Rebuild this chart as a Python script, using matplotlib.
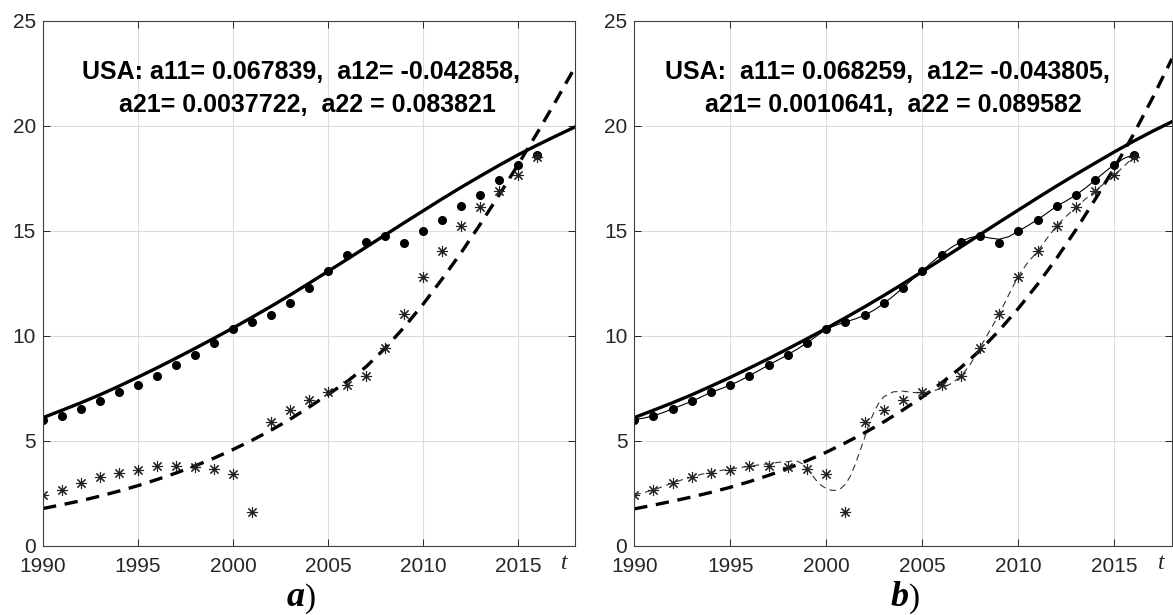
import numpy as np
import matplotlib
matplotlib.use("Agg")
import matplotlib.pyplot as plt

# observed data, 1990-2016
years = list(range(1990, 2017))
dots = [6.00, 6.18, 6.52, 6.88, 7.31, 7.65, 8.10, 8.61, 9.10, 9.66, 10.32, 10.66,
        10.98, 11.54, 12.29, 13.10, 13.87, 14.49, 14.76, 14.44, 14.98, 15.53,
        16.18, 16.71, 17.42, 18.16, 18.63]
stars = [2.41, 2.65, 2.99, 3.27, 3.45, 3.62, 3.78, 3.80, 3.74, 3.64, 3.43, 1.60,
         5.90, 6.48, 6.93, 7.34, 7.66, 8.07, 9.42, 11.03, 12.81, 14.03, 15.24,
         16.13, 16.90, 17.67, 18.51]

# model curves, 1990-2018
fit_years = list(range(1990, 2019))
fit_x_a = [6.10, 6.45, 6.81, 7.19, 7.60, 8.03, 8.47, 8.93, 9.40, 9.88, 10.37,
           10.88, 11.40, 11.94, 12.50, 13.07, 13.64, 14.22, 14.80, 15.38, 15.95,
           16.52, 17.07, 17.60, 18.12, 18.62, 19.08, 19.52, 19.95]
fit_y_a = [1.77, 1.95, 2.14, 2.36, 2.60, 2.86, 3.15, 3.46, 3.80, 4.17, 4.58,
           5.02, 5.50, 6.02, 6.60, 7.20, 7.82, 8.52, 9.40, 10.40, 11.50, 12.70,
           13.95, 15.30, 16.70, 18.15, 19.65, 21.20, 22.80]
fit_x_b = [6.10, 6.45, 6.81, 7.19, 7.60, 8.02, 8.46, 8.91, 9.38, 9.86, 10.35,
           10.86, 11.38, 11.92, 12.48, 13.06, 13.64, 14.23, 14.82, 15.41, 15.99,
           16.57, 17.14, 17.69, 18.23, 18.76, 19.27, 19.75, 20.20]
fit_y_b = [1.75, 1.93, 2.12, 2.32, 2.54, 2.78, 3.05, 3.35, 3.68, 4.05, 4.45,
           4.90, 5.38, 5.90, 6.47, 7.08, 7.75, 8.48, 9.30, 10.25, 11.30, 12.45,
           13.70, 15.05, 16.50, 18.00, 19.60, 21.35, 23.20]

# smoothing curves of panel b
spl_t_x = [1990, 1990.5, 1991, 1991.5, 1992, 1992.5, 1993, 1993.5, 1994, 1994.5,
           1995, 1995.5, 1996, 1996.5, 1997, 1997.5, 1998, 1998.5, 1999, 1999.5,
           2000, 2000.5, 2001, 2001.5, 2002, 2002.5, 2003, 2003.5, 2004, 2004.5,
           2005, 2005.5, 2006, 2006.5, 2007, 2007.5, 2008, 2008.5, 2009, 2009.5,
           2010, 2010.5, 2011, 2011.5, 2012, 2012.5, 2013, 2013.5, 2014, 2014.5,
           2015, 2015.5, 2016]
spl_x = [6.00, 6.08, 6.18, 6.34, 6.52, 6.70, 6.88, 7.09, 7.31, 7.47, 7.65, 7.86,
         8.10, 8.35, 8.61, 8.85, 9.10, 9.37, 9.66, 9.99, 10.32, 10.50, 10.66,
         10.80, 10.98, 11.23, 11.54, 11.90, 12.29, 12.70, 13.10, 13.50, 13.88,
         14.20, 14.48, 14.68, 14.75, 14.66, 14.60, 14.72, 14.98, 15.25, 15.53,
         15.85, 16.18, 16.43, 16.71, 17.04, 17.42, 17.80, 18.16, 18.45, 18.63]
spl_t_y = [1990, 1990.5, 1991, 1991.5, 1992, 1992.5, 1993, 1993.5, 1994, 1994.5,
           1995, 1995.5, 1996, 1996.5, 1997, 1997.5, 1998, 1998.25, 1998.5,
           1998.75, 1999, 1999.25, 1999.5, 1999.75, 2000, 2000.25, 2000.5,
           2000.75, 2001, 2001.25, 2001.5, 2001.75, 2002, 2002.25, 2002.5,
           2002.75, 2003, 2003.5, 2004, 2004.5, 2005, 2005.5, 2006, 2006.5, 2007,
           2007.5, 2008, 2008.5, 2009, 2009.5, 2010, 2010.5, 2011, 2011.5, 2012,
           2012.5, 2013, 2013.5, 2014, 2014.5, 2015, 2015.5, 2016]
spl_y = [2.41, 2.53, 2.65, 2.82, 2.99, 3.14, 3.27, 3.40, 3.50, 3.58, 3.65, 3.72,
         3.78, 3.85, 3.90, 3.97, 4.00, 4.04, 4.02, 3.90, 3.68, 3.38, 3.08, 2.86,
         2.72, 2.64, 2.63, 2.72, 2.93, 3.30, 3.85, 4.50, 5.15, 5.85, 6.40, 6.82,
         7.10, 7.33, 7.36, 7.30, 7.27, 7.35, 7.50, 7.72, 8.05, 8.65, 9.42, 10.22,
         11.02, 11.95, 12.84, 13.50, 14.02, 14.65, 15.24, 15.70, 16.12, 16.52,
         16.90, 17.28, 17.65, 18.08, 18.51]

label_a = ["USA: a11= 0.067839,  a12= -0.042858,",
           "a21= 0.0037722,  a22 = 0.083821"]
label_b = ["USA:  a11= 0.068259,  a12= -0.043805,",
           "a21= 0.0010641,  a22 = 0.089582"]

plt.rcParams['font.family'] = ['Liberation Sans', 'DejaVu Sans']

fig = plt.figure(figsize=(11.73, 6.15), dpi=100)
ax_a = fig.add_axes([0.0367, 0.1128, 0.4535, 0.8531])
ax_b = fig.add_axes([0.5407, 0.1128, 0.4584, 0.8531])

ast = (8, 2, 0)


def setup(ax):
    ax.set_xlim(1990, 2018)
    ax.set_ylim(0, 25)
    ax.set_xticks([1990, 1995, 2000, 2005, 2010, 2015])
    ax.set_yticks([0, 5, 10, 15, 20, 25])
    ax.grid(True, color='#dcdcdc', linewidth=0.8)
    ax.set_axisbelow(True)
    ax.tick_params(direction='in', top=True, right=True, length=5,
                   labelsize=15, colors='#262626', width=0.7)
    ax.tick_params(axis='x', pad=8)
    ax.tick_params(axis='y', pad=5)
    for s in ax.spines.values():
        s.set_color('#404040')
        s.set_linewidth(0.8)
    ax.annotate('t', xy=(2017.45, 0), xycoords=('data', 'axes fraction'),
                xytext=(0, -13), textcoords='offset points', ha='center',
                va='center', fontsize=17, style='italic',
                family='Liberation Serif', color='#262626')


def draw(ax, fx, fy, lines, tx, panel, fig_x):
    setup(ax)
    ax.plot(fit_years, fx, color='black', lw=2.4)
    ax.plot(fit_years, fy, color='black', lw=2.4, linestyle=(0, (4, 2.6)))
    ax.plot(years, dots, 'o', color='black', markersize=5.5)
    ax.plot(years, stars, linestyle='none', marker=ast, color='#222222',
            markersize=8, markeredgewidth=0.8)
    ax.text(tx, 22.55, lines[0], ha='center', va='center', fontsize=18,
            fontweight='bold')
    ax.text(tx + 0.3, 21.0, lines[1], ha='center', va='center',
            fontsize=18, fontweight='bold')
    fig.text(fig_x, 0.002, panel, ha='right', va='bottom', fontsize=26,
             fontweight='bold', style='italic', family='Liberation Serif')
    fig.text(fig_x, 0.002, ')', ha='left', va='bottom', fontsize=24,
             family='Liberation Serif')


draw(ax_a, fit_x_a, fit_y_a, label_a, 2003.6, 'a', 0.26)
draw(ax_b, fit_x_b, fit_y_b, label_b, 2003.2, 'b', 0.775)

ax_b.plot(spl_t_x, spl_x, color='black', lw=0.8)
ax_b.plot(spl_t_y, spl_y, color='#333333', lw=0.8, linestyle=(0, (6, 4)))

fig.savefig('out.png', dpi=100)
